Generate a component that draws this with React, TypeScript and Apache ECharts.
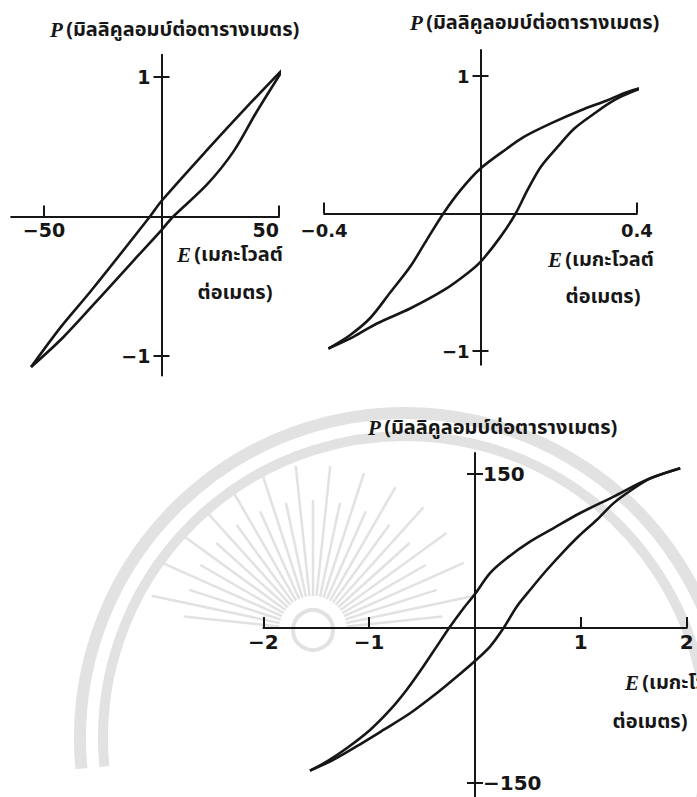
import React, { useEffect, useRef } from "react";
import * as echarts from "echarts";

const INK = "#161616";
const MARK = "#e2e2e2";

// Panel A — narrow, nearly linear loop (E in MV/m, P in mC/m²)
const aFalling: number[][] = [
  [52.1, 1.064], [36, 0.78], [19.8, 0.484], [0, 0.111], [-4.9, 0],
  [-29.7, -0.527], [-43.2, -0.8], [-55.5, -1.079],
];
const aRising: number[][] = [
  [-55.5, -1.079], [-41.5, -0.86], [-23.3, -0.527], [-11.7, -0.312], [0, -0.097],
  [5, 0], [19.2, 0.226], [30.6, 0.465], [40.5, 0.751], [52.1, 1.064],
];
const aTicksE = [-50, 50];
const aTicksP = [-1, 1];

// Panel B — square-ish ferroelectric loop
const bFalling: number[][] = [
  [0.445, 0.94], [0.376, 0.884], [0.325, 0.824], [0.257, 0.751], [0.18, 0.655],
  [0.111, 0.557], [0.068, 0.473], [0, 0.327], [-0.051, 0.17], [-0.095, 0],
  [-0.137, -0.19], [-0.18, -0.388], [-0.231, -0.575], [-0.282, -0.76],
  [-0.334, -0.885], [-0.389, -0.982],
];
const bRising: number[][] = [
  [-0.389, -0.982], [-0.325, -0.897], [-0.265, -0.8], [-0.18, -0.691],
  [-0.094, -0.558], [-0.034, -0.436], [0, -0.352], [0.051, -0.17], [0.09, 0],
  [0.12, 0.17], [0.154, 0.339], [0.197, 0.484], [0.24, 0.618], [0.291, 0.727],
  [0.342, 0.824], [0.394, 0.892], [0.445, 0.94],
];
const bTicksE = [-0.4, 0.4];
const bTicksP = [-1, 1];

// Panel C — wide loop with large polarisation
const cFalling: number[][] = [
  [1.94, 155], [1.62, 143.7], [1.31, 127.5], [0.99, 111.4], [0.74, 96.8],
  [0.52, 83.8], [0.3, 67.7], [0.14, 53.1], [0, 33], [-0.11, 19], [-0.245, 0],
  [-0.363, -18.1], [-0.49, -37.6], [-0.647, -60.2], [-0.803, -79.6],
  [-0.992, -99], [-1.213, -116.8], [-1.402, -129.8], [-1.56, -138.5],
];
const cRising: number[][] = [
  [-1.56, -138.5], [-1.34, -128], [-1.12, -115], [-0.866, -99], [-0.614, -82.8],
  [-0.363, -63.4], [-0.173, -47.3], [0, -32], [0.142, -18], [0.27, 0],
  [0.394, 20.7], [0.52, 36.9], [0.678, 56.3], [0.835, 74], [0.992, 90.3],
  [1.15, 104.9], [1.308, 121], [1.465, 133], [1.654, 145], [1.94, 155],
];
const cTicksE = [-2, -1, 1, 2];
const cTicksP = [-150, 150];

const P_UNIT = "(มิลลิคูลอมบ์ต่อตารางเมตร)";
const E_UNIT_1 = "(เมกะโวลต์";
const E_UNIT_2 = "ต่อเมตร)";

const THAI_FONT =
  '"Noto Sans Thai", "Noto Sans Thai Looped", Loma, Garuda, "Tlwg Typo", Waree, "DejaVu Sans", sans-serif';
const NUM_FONT = '"DejaVu Sans", "Liberation Sans", sans-serif';
const SYMBOL_FONT = '"Liberation Serif", "DejaVu Serif", serif';

type Frame = {
  x0: number; y0: number; sx: number; sy: number;
  xMin: number; xMax: number; yMin: number; yMax: number;
};

function gridRect(f: Frame) {
  return {
    left: f.x0 + f.xMin * f.sx,
    top: f.y0 - f.yMax * f.sy,
    width: (f.xMax - f.xMin) * f.sx,
    height: (f.yMax - f.yMin) * f.sy,
  };
}

const fmt = (v: number) => (v < 0 ? "\u2212" + String(Math.abs(v)) : String(v));

type Panel = {
  frame: Frame;
  falling: number[][];
  rising: number[][];
  ticksE: number[];
  ticksP: number[];
  ySide: "left" | "right";
  fontSize: number;
  xMargin: number;
  yMargin: number;
  alignMax?: string;
};

const panels: Panel[] = [
  {
    frame: { x0: 161.5, y0: 216.5, sx: 2.35, sy: 139.5, xMin: -64, xMax: 50, yMin: -1.14, yMax: 1.16 },
    falling: aFalling, rising: aRising, ticksE: aTicksE, ticksP: aTicksP,
    ySide: "left", fontSize: 19, xMargin: 4, yMargin: 11, alignMax: "right",
  },
  {
    frame: { x0: 480.5, y0: 213.5, sx: 391, sy: 137.5, xMin: -0.4, xMax: 0.4, yMin: -1.1, yMax: 1.19 },
    falling: bFalling, rising: bRising, ticksE: bTicksE, ticksP: bTicksP,
    ySide: "left", fontSize: 18, xMargin: 8, yMargin: 11,
  },
  {
    frame: { x0: 475, y0: 628, sx: 105.8, sy: 1.03, xMin: -2, xMax: 2, yMin: -165, yMax: 170 },
    falling: cFalling, rising: cRising, ticksE: cTicksE, ticksP: cTicksP,
    ySide: "right", fontSize: 20, xMargin: 4, yMargin: 8,
  },
];

function buildOption() {
  const grid: any[] = [];
  const xAxis: any[] = [];
  const yAxis: any[] = [];
  const series: any[] = [];

  panels.forEach((p, i) => {
    const f = p.frame;
    grid.push({ ...gridRect(f), containLabel: false, outerBoundsMode: "none" });

    const labelStyle = {
      color: INK,
      fontFamily: NUM_FONT,
      fontWeight: "bold",
      fontSize: p.fontSize,
      formatter: fmt,
    };

    // shift the axes from the grid edges onto the origin
    const xOffset = f.yMin * f.sy;
    const yOffset = p.ySide === "left" ? f.xMin * f.sx : -f.xMax * f.sx;

    xAxis.push({
      type: "value",
      gridIndex: i,
      position: "bottom",
      offset: xOffset,
      min: f.xMin,
      max: f.xMax,
      axisLine: { show: true, onZero: false, lineStyle: { color: INK, width: 2 } },
      axisTick: { show: true, inside: true, length: 11, customValues: p.ticksE, lineStyle: { color: INK, width: 2 } },
      axisLabel: { ...labelStyle, customValues: p.ticksE, margin: p.xMargin, alignMaxLabel: p.alignMax },
      splitLine: { show: false },
    });

    // main vertical axis: line, labels and the outer half of each cross tick
    yAxis.push({
      type: "value",
      gridIndex: i,
      position: p.ySide,
      offset: yOffset,
      min: f.yMin,
      max: f.yMax,
      axisLine: { show: true, onZero: false, lineStyle: { color: INK, width: 2 } },
      axisTick: { show: true, inside: false, length: 8, customValues: p.ticksP, lineStyle: { color: INK, width: 2 } },
      axisLabel: { ...labelStyle, customValues: p.ticksP, margin: p.yMargin },
      splitLine: { show: false },
    });
    // companion axis: inner half of each cross tick
    yAxis.push({
      type: "value",
      gridIndex: i,
      position: p.ySide,
      offset: yOffset,
      min: f.yMin,
      max: f.yMax,
      axisLine: { show: false, onZero: false },
      axisTick: { show: true, inside: true, length: 8, customValues: p.ticksP, lineStyle: { color: INK, width: 2 } },
      axisLabel: { show: false },
      splitLine: { show: false },
    });

    const yIdx = yAxis.length - 2;
    [p.falling, p.rising].forEach((d) => {
      series.push({
        type: "line",
        xAxisIndex: i,
        yAxisIndex: yIdx,
        data: d,
        smooth: 0.3,
        symbol: "none",
        showSymbol: false,
        clip: false,
        silent: true,
        lineStyle: { color: INK, width: 2.6 },
        z: 5,
      });
    });
  });

  const pRich = {
    p: { fontFamily: SYMBOL_FONT, fontStyle: "italic", fontWeight: "bold", fontSize: 21, fill: INK },
    t: { fontFamily: THAI_FONT, fontSize: 20, fontWeight: "bold", fill: INK },
  };

  const title = (x: number, y: number) => ({
    type: "text",
    x,
    y,
    z: 10,
    style: { text: `{p|P} {t|${P_UNIT}}`, rich: pRich, align: "left", verticalAlign: "middle" },
  });
  const eLabel = (x: number, y: number, cx2: number, y2: number) => [
    {
      type: "text",
      x,
      y,
      z: 10,
      style: { text: `{p|E} {t|${E_UNIT_1}}`, rich: pRich, align: "left", verticalAlign: "middle" },
    },
    {
      type: "text",
      x: cx2,
      y: y2,
      z: 10,
      style: {
        text: E_UNIT_2, fontFamily: THAI_FONT, fontSize: 20, fontWeight: "bold",
        fill: INK, align: "center", verticalAlign: "middle",
      },
    },
  ];

  // faint emblem behind the lower panel: two bands and a rayed sun
  const emblem: any[] = [
    { type: "arc", z: -10, shape: { cx: 405, cy: 738, r: 325, startAngle: Math.PI * 0.97, endAngle: Math.PI * 2.1 }, style: { stroke: MARK, lineWidth: 12, fill: "none" } },
    { type: "arc", z: -10, shape: { cx: 405, cy: 738, r: 302, startAngle: Math.PI * 0.97, endAngle: Math.PI * 2.1 }, style: { stroke: MARK, lineWidth: 10, fill: "none" } },
    { type: "circle", z: -10, shape: { cx: 313, cy: 630, r: 20 }, style: { stroke: MARK, lineWidth: 4, fill: "none" } },
  ];
  for (let a = 186; a <= 354; a += 6) {
    const t = (a * Math.PI) / 180;
    const reach = a % 12 === 0 ? 165 : 130;
    emblem.push({
      type: "line",
      z: -10,
      shape: {
        x1: 313 + Math.cos(t) * 34, y1: 630 + Math.sin(t) * 34,
        x2: 313 + Math.cos(t) * reach, y2: 630 + Math.sin(t) * reach,
      },
      style: { stroke: MARK, lineWidth: 2.5 },
    });
  }

  const graphic = [
    ...emblem,
    title(50, 30),
    title(410, 23),
    title(368, 428),
    ...eLabel(177, 255, 235, 293),
    ...eLabel(548, 260, 603, 297),
    ...eLabel(625, 683, 650, 722),
  ];

  return {
    animation: false,
    backgroundColor: "#ffffff",
    grid,
    xAxis,
    yAxis,
    series,
    graphic,
  };
}

export default function App() {
  const ref = useRef<HTMLDivElement>(null);
  useEffect(() => {
    if (!ref.current) return;
    const chart = echarts.init(ref.current, undefined, { renderer: "svg" });
    chart.setOption(buildOption() as any);
    return () => chart.dispose();
  }, []);
  return (
    <div
      ref={ref}
      style={{ position: "fixed", left: 0, top: 0, width: 697, height: 797, background: "#fff" }}
    />
  );
}
